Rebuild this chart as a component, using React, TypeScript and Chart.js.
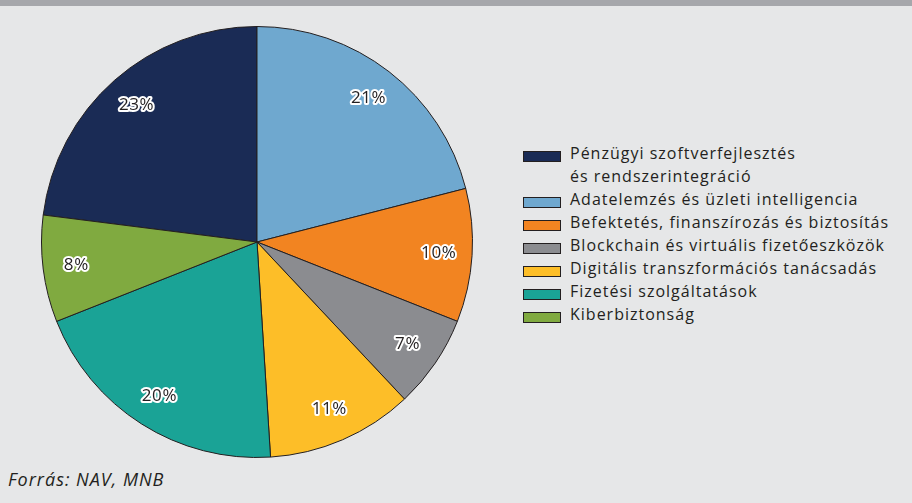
import React, { useEffect, useRef } from "react";
import { Chart, registerables } from "chart.js";

Chart.register(...registerables);

const categories: string[][] = [
  ["Pénzügyi szoftverfejlesztés", "és rendszerintegráció"],
  ["Adatelemzés és üzleti intelligencia"],
  ["Befektetés, finanszírozás és biztosítás"],
  ["Blockchain és virtuális fizetőeszközök"],
  ["Digitális transzformációs tanácsadás"],
  ["Fizetési szolgáltatások"],
  ["Kiberbiztonság"],
];
const shares: number[] = [23, 21, 10, 7, 11, 20, 8];
const colors: string[] = ["#1a2b55", "#6fa8cf", "#f28421", "#8b8c90", "#fdbe28", "#1aa396", "#80aa40"];
const sourceText = "Forrás: NAV, MNB";

const FONT = "'Open Sans', sans-serif";
const TEXT = "#231f20";

const labelPlugin = {
  id: "sliceLabels",
  afterDatasetsDraw(chart: any) {
    const ctx = chart.ctx;
    const meta = chart.getDatasetMeta(0);
    ctx.save();
    ctx.font = `17px ${FONT}`;
    try {
      (ctx as any).letterSpacing = "0.6px";
    } catch (e) {}
    ctx.textAlign = "center";
    ctx.textBaseline = "middle";
    ctx.lineJoin = "round";
    meta.data.forEach((arc: any, i: number) => {
      const p = arc.getProps(["x", "y", "startAngle", "endAngle", "outerRadius"], true);
      const mid = (p.startAngle + p.endAngle) / 2;
      const r = p.outerRadius * 0.845;
      const x = p.x + Math.cos(mid) * r;
      const y = p.y + Math.sin(mid) * r;
      const txt = `${shares[i]}%`;
      ctx.strokeStyle = "#ffffff";
      ctx.lineWidth = 4;
      ctx.strokeText(txt, x, y);
      ctx.fillStyle = TEXT;
      ctx.fillText(txt, x, y);
    });
    ctx.restore();
  },
};

export default function App() {
  const ref = useRef<HTMLCanvasElement | null>(null);
  useEffect(() => {
    if (!ref.current) return;
    const total = shares.reduce((a, b) => a + b, 0);
    const chart = new Chart(ref.current, {
      type: "pie",
      data: {
        labels: categories.map((c) => c.join(" ")),
        datasets: [
          {
            data: shares,
            backgroundColor: colors,
            borderColor: "#231f20",
            borderWidth: 1,
          },
        ],
      },
      options: {
        animation: false,
        responsive: false,
        maintainAspectRatio: false,
        rotation: -(shares[0] / total) * 360,
        layout: { padding: 0 },
        plugins: { legend: { display: false }, tooltip: { enabled: false } },
      },
      plugins: [labelPlugin],
    });
    return () => chart.destroy();
  }, []);

  return (
    <div
      style={{
        position: "fixed",
        left: 0,
        top: 0,
        width: 912,
        height: 503,
        background: "#e6e7e8",
        overflow: "hidden",
        fontFamily: FONT,
        color: TEXT,
      }}
    >
      <div style={{ position: "absolute", left: 0, top: 0, width: 912, height: 6, background: "#a6a7ab" }} />
      <canvas ref={ref} width={432} height={432} style={{ position: "absolute", left: 41, top: 26, width: 432, height: 432 }} />
      <div style={{ position: "absolute", left: 523, top: 142 }}>
        {categories.map((lines, i) => (
          <div key={i} style={{ display: "flex", alignItems: "flex-start" }}>
            <div
              style={{
                width: 38,
                height: 11,
                marginTop: 9,
                marginRight: 9,
                boxSizing: "border-box",
                border: "1px solid #231f20",
                background: colors[i],
                flex: "none",
              }}
            />
            <div style={{ fontSize: 16, lineHeight: "23px", letterSpacing: "1px", whiteSpace: "nowrap" }}>
              {lines.map((l, j) => (
                <div key={j}>{l}</div>
              ))}
            </div>
          </div>
        ))}
      </div>
      <div
        style={{
          position: "absolute",
          left: 8,
          top: 469,
          fontSize: 18,
          lineHeight: "20px",
          letterSpacing: "1px",
          fontStyle: "italic",
          whiteSpace: "nowrap",
        }}
      >
        {sourceText}
      </div>
    </div>
  );
}
